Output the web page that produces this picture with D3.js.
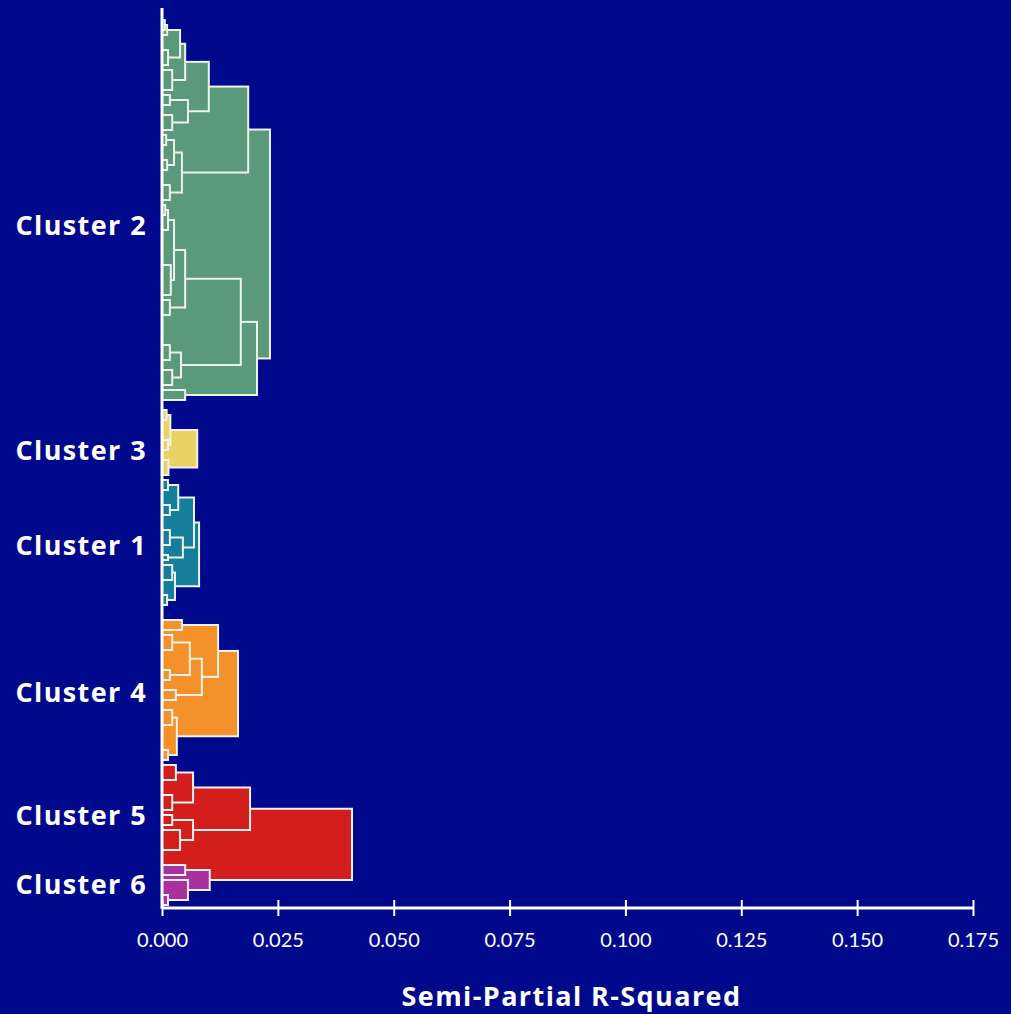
<!DOCTYPE html>
<html>
<head>
<meta charset="utf-8">
<script src="https://cdn.jsdelivr.net/npm/d3@7/dist/d3.min.js"></script>
<style>
  html, body { margin: 0; padding: 0; background: #00088c; }
  svg { display: block; }
</style>
</head>
<body>
<svg id="chart" width="1011" height="1014"></svg>
<script>
// cluster order top to bottom, colours and where the label sits (leaf order units)
const clusterNames = ["Cluster 2", "Cluster 3", "Cluster 1", "Cluster 4", "Cluster 5", "Cluster 6"];
const clusterColors = ["#5a9a7b", "#ead264", "#147e9b", "#f4912a", "#d41d1d", "#a8309f"];
const labelLeaf = [41, 86, 105, 134.4, 159, 172.8];

// merges: [id, semi-partial R-squared, upper child, lower child]
// a child is another merge id or a leaf index
const mergesC2 = [
  ["G0", 0.0006, 0, 2], ["G1", 0.0011, "G0", 3], ["G2", 0.0013, 6, 9], ["G", 0.0039, "G1", "G2"],
  ["M", 0.0022, 10, 14], ["F", 0.0050, "G", "M"],
  ["N", 0.0017, 15, 17], ["O", 0.0022, 19, 22], ["H", 0.0056, "N", "O"],
  ["E", 0.0101, "F", "H"],
  ["P1", 0.0009, 23, 25], ["P2", 0.0011, 28, 30], ["P", 0.0026, "P1", "P2"],
  ["Q", 0.0017, 33, 36], ["I", 0.0043, "P", "Q"],
  ["B", 0.0186, "E", "I"],
  ["V0", 0.0007, 37, 39], ["V", 0.0013, "V0", 42], ["W", 0.0019, 49, 55], ["R", 0.0026, "V", "W"],
  ["S", 0.0017, 56, 59], ["J", 0.0050, "R", "S"],
  ["T", 0.0017, 65, 68], ["U", 0.0022, 70, 73], ["K", 0.0041, "T", "U"],
  ["D", 0.0170, "J", "K"], ["L", 0.0050, 74, 76],
  ["C", 0.0205, "D", "L"],
  ["A", 0.0233, "B", "C"]
];
const mergesC3 = [
  ["Yb", 0.0010, 78, 80], ["Yc", 0.0013, 84, 86], ["Ya", 0.0018, "Yb", "Yc"],
  ["Yd", 0.0014, 88, 91], ["Y", 0.0076, "Ya", "Yd"]
];
const mergesC1 = [
  ["T6", 0.0013, 92, 94], ["T7", 0.0017, 97, 99], ["T3", 0.0035, "T6", "T7"],
  ["T8", 0.0017, 102, 105], ["T9", 0.0013, 107, 108], ["T4", 0.0045, "T8", "T9"],
  ["T2", 0.0069, "T3", "T4"],
  ["T10", 0.0022, 109, 112], ["T11", 0.0011, 115, 117], ["T5", 0.0028, "T10", "T11"],
  ["T1", 0.0080, "T2", "T5"]
];
const mergesC4 = [
  ["O5", 0.0043, 120, 122],
  ["O8", 0.0022, 123, 126], ["O9", 0.0017, 130, 132], ["O4", 0.0060, "O8", "O9"],
  ["O6", 0.0030, 134, 136], ["O3", 0.0086, "O4", "O6"],
  ["O2", 0.0121, "O5", "O3"],
  ["O10", 0.0022, 138, 141], ["O11", 0.0013, 146, 148], ["O7", 0.0032, "O10", "O11"],
  ["O1", 0.0164, "O2", "O7"]
];
const mergesC5 = [
  ["R4", 0.0030, 149, 152], ["R5", 0.0022, 155, 158], ["R2", 0.0067, "R4", "R5"],
  ["R6", 0.0022, 159, 161], ["R7", 0.0039, 162, 166], ["R3", 0.0067, "R6", "R7"],
  ["R1", 0.0190, "R2", "R3"],
  ["R0", 0.0410, "R1", "Pu"]
];
const mergesC6 = [
  ["Pu1", 0.0050, 169, 171], ["Pu3", 0.0013, 175, 177], ["Pu2", 0.0056, 172, "Pu3"],
  ["Pu", 0.0103, "Pu1", "Pu2"]
];
const clusterMerges = [mergesC2, mergesC3, mergesC1, mergesC4, mergesC5, mergesC6];

const xTicks = [0, 0.025, 0.05, 0.075, 0.1, 0.125, 0.15, 0.175];
const xTitle = "Semi-Partial R-Squared";
const leafCount = 177;

const svg = d3.select("#chart");
const tickFont = "Lato, 'Open Sans', sans-serif";
const labelFont = "'Open Sans', Lato, sans-serif";

const x = d3.scaleLinear().domain([0, 0.175]).range([162, 973]);
const y = d3.scaleLinear().domain([0, leafCount]).range([20, 905]);

// index all merges, remember which cluster each belongs to
const nodes = new Map();
clusterMerges.forEach((list, ci) => {
  list.forEach(([id, h, a, b]) => nodes.set(id, { id, h, a, b, ci }));
});

// vertical position of a child: leaf index, or the midpoint of a merge
const posCache = new Map();
function pos(c) {
  if (typeof c === "number") return c;
  if (posCache.has(c)) return posCache.get(c);
  const n = nodes.get(c);
  const p = (pos(n.a) + pos(n.b)) / 2;
  posCache.set(c, p);
  return p;
}

const mergeData = Array.from(nodes.values())
  .map(n => ({ ...n, top: pos(n.a), bottom: pos(n.b) }))
  .sort((p, q) => q.h - p.h);

// each merge is a filled box from the axis to its height; children drawn on top
svg.append("g")
  .selectAll("rect")
  .data(mergeData)
  .join("rect")
  .attr("x", x(0))
  .attr("y", d => y(d.top))
  .attr("width", d => x(d.h) - x(0))
  .attr("height", d => y(d.bottom) - y(d.top))
  .attr("fill", d => clusterColors[d.ci])
  .attr("stroke", "#eef2ee")
  .attr("stroke-width", 2);

// left axis line
svg.append("line")
  .attr("x1", x(0)).attr("x2", x(0))
  .attr("y1", 8).attr("y2", 909)
  .attr("stroke", "#ffffff")
  .attr("stroke-width", 3);

// bottom axis
const axisY = 908;
const axisG = svg.append("g")
  .attr("transform", `translate(0,${axisY})`)
  .call(d3.axisBottom(x).tickValues(xTicks).tickFormat(d3.format(".3f")).tickSize(8).tickPadding(17));

axisG.select(".domain")
  .attr("stroke", "#ffffff")
  .attr("stroke-width", 3)
  .attr("d", `M${x(0)},0H${x(0.175)}`);
axisG.selectAll(".tick line")
  .attr("stroke", "#ffffff")
  .attr("stroke-width", 2)
  .attr("y1", -8)
  .attr("y2", 8);
axisG.selectAll(".tick text")
  .attr("fill", "#ffffff")
  .style("font-family", tickFont)
  .style("font-size", "20px");

// axis title
svg.append("text")
  .attr("x", (x(0) + x(0.175)) / 2 + 4)
  .attr("y", 1006)
  .attr("text-anchor", "middle")
  .attr("fill", "#ffffff")
  .style("font-family", labelFont)
  .style("font-weight", "bold")
  .style("font-size", "27px")
  .style("letter-spacing", "1.4px")
  .text(xTitle);

// cluster labels
svg.append("g")
  .selectAll("text")
  .data(clusterNames)
  .join("text")
  .attr("x", 147)
  .attr("y", (d, i) => y(labelLeaf[i]))
  .attr("dy", "0.36em")
  .attr("text-anchor", "end")
  .attr("fill", "#ffffff")
  .style("font-family", labelFont)
  .style("font-weight", "bold")
  .style("font-size", "27px")
  .style("letter-spacing", "1.4px")
  .text(d => d);
</script>
</body>
</html>
